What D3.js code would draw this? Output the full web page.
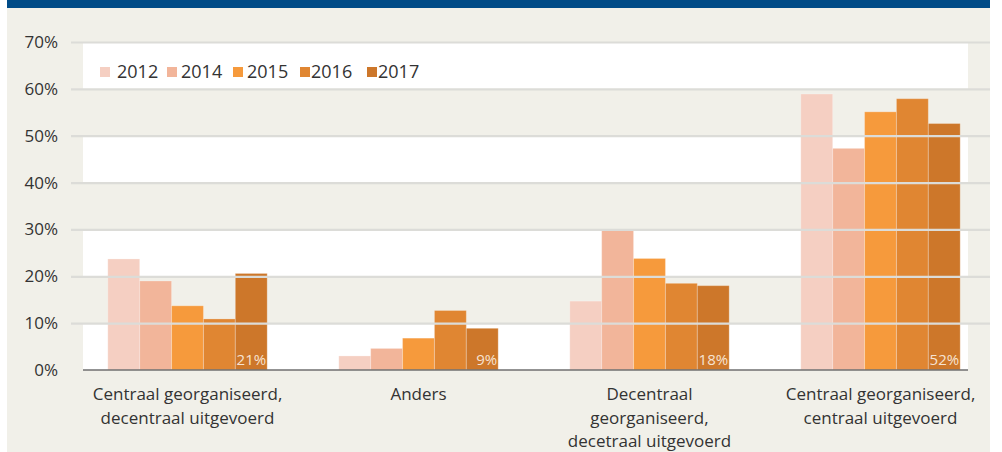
<!DOCTYPE html>
<html lang="nl">
<head>
<meta charset="UTF-8">
<title>Organisatie</title>
<style>
  body { margin: 0; background: #fff; }
  svg text { font-family: "Open Sans", "Noto Sans", sans-serif; fill: #333; }
</style>
</head>
<body>
<script src="https://cdn.jsdelivr.net/npm/d3@7"></script>
<script>
  var categories = [
    ["Centraal georganiseerd,", "decentraal uitgevoerd"],
    ["Anders"],
    ["Decentraal", "georganiseerd,", "decetraal uitgevoerd"],
    ["Centraal georganiseerd,", "centraal uitgevoerd"]
  ];
  var years = ["2012", "2014", "2015", "2016", "2017"];
  var v2012 = [23.7, 3.0, 14.7, 58.9];
  var v2014 = [19.0, 4.6, 30.0, 47.3];
  var v2015 = [13.7, 6.8, 23.8, 55.1];
  var v2016 = [10.9, 12.7, 18.5, 57.9];
  var v2017 = [20.6, 8.9, 18.0, 52.6];
  var labels2017 = ["21%", "9%", "18%", "52%"];
  var yTicks = [0, 10, 20, 30, 40, 50, 60, 70];
  var colors = ["#f5cfc2", "#f2b59a", "#f69a3c", "#e08632", "#cd772a"];

  var series = [v2012, v2014, v2015, v2016, v2017];
  var width = 1002, height = 452;

  var svg = d3.select("body").append("svg")
    .attr("width", width)
    .attr("height", height);

  // panel
  svg.append("rect").attr("x", 7).attr("y", 0).attr("width", 983).attr("height", height).attr("fill", "#f1f0e9");
  svg.append("rect").attr("x", 7).attr("y", 0).attr("width", 983).attr("height", 8).attr("fill", "#004b87");

  var y = d3.scaleLinear().domain([0, 70]).range([370, 42]);
  var x0 = d3.scaleBand().domain(d3.range(categories.length)).range([72, 996])
    .paddingInner(0.31).paddingOuter(0.155);
  var x1 = d3.scaleBand().domain(years).range([0, x0.bandwidth()]);

  // white bands
  svg.append("g").selectAll("rect")
    .data([0, 20, 40, 60])
    .enter().append("rect")
    .attr("x", 83).attr("width", 885)
    .attr("y", function(d){ return y(d + 10); })
    .attr("height", function(d){ return y(d) - y(d + 10); })
    .attr("fill", "#fff");

  // bars
  var groups = svg.append("g").selectAll("g")
    .data(categories)
    .enter().append("g")
    .attr("transform", function(d, i){ return "translate(" + x0(i) + ",0)"; });

  groups.selectAll("rect")
    .data(function(d, i){ return years.map(function(yr, j){ return {year: yr, j: j, v: series[j][i]}; }); })
    .enter().append("rect")
    .attr("x", function(d){ return x1(d.year); })
    .attr("width", x1.bandwidth())
    .attr("y", function(d){ return y(d.v); })
    .attr("height", function(d){ return y(0) - y(d.v); })
    .attr("fill", function(d){ return colors[d.j]; })
    .attr("stroke", "rgba(255,255,255,0.25)")
    .attr("stroke-width", 1);

  // gridlines on top of bars
  var yAxis = d3.axisLeft(y).tickValues(yTicks.slice(1))
    .tickSize(-919).tickFormat("");
  svg.append("g")
    .attr("transform", "translate(71,0)")
    .call(yAxis)
    .call(function(g){
      g.select(".domain").remove();
      g.selectAll("line").attr("stroke", "#dcdcd8").attr("stroke-width", 2.2);
    });

  // tick labels
  svg.append("g").selectAll("text")
    .data(yTicks)
    .enter().append("text")
    .attr("x", 58)
    .attr("y", function(d){ return y(d) + 6; })
    .attr("text-anchor", "end")
    .style("font-size", "17px")
    .text(function(d){ return d + "%"; });

  // baseline
  svg.append("line")
    .attr("x1", 83).attr("x2", 968)
    .attr("y1", y(0)).attr("y2", y(0))
    .attr("stroke", "#6f6f6f").attr("stroke-width", 1.6);

  // value labels on 2017 bars
  groups.append("text")
    .attr("x", x1("2017") + x1.bandwidth() - 1)
    .attr("y", y(0) - 5)
    .attr("text-anchor", "end")
    .style("font-size", "15px")
    .style("fill", "#f7e3d2")
    .text(function(d, i){ return labels2017[i]; });

  // category labels
  groups.append("text")
    .attr("text-anchor", "middle")
    .style("font-size", "17px")
    .selectAll("tspan")
    .data(function(d){ return d; })
    .enter().append("tspan")
    .attr("x", x0.bandwidth() / 2)
    .attr("y", function(d, i){ return 400 + i * 23.5; })
    .text(function(d){ return d; });

  // legend
  var legendBox = [100, 167, 233, 300, 367];
  var legendText = [117, 181, 247, 311, 378];
  var legend = svg.append("g").selectAll("g")
    .data(years)
    .enter().append("g");
  legend.append("rect")
    .attr("x", function(d, i){ return legendBox[i]; })
    .attr("y", 67)
    .attr("width", 10).attr("height", 10)
    .attr("fill", function(d, i){ return colors[i]; });
  legend.append("text")
    .attr("x", function(d, i){ return legendText[i]; })
    .attr("y", 78)
    .style("font-size", "18px")
    .text(function(d){ return d; });
</script>
</body>
</html>
